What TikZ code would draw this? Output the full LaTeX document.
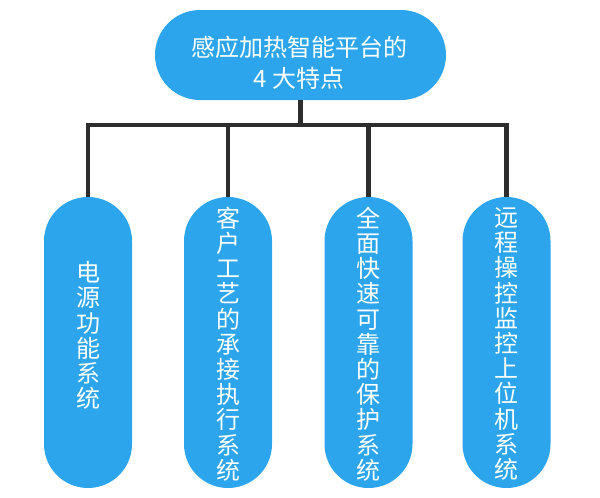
\documentclass[tikz,border=0pt]{standalone}
\usepackage{fontspec}
\setmainfont{Noto Sans CJK SC}
\definecolor{pillblue}{RGB}{44,165,236}
\definecolor{linedark}{RGB}{45,45,45}
\begin{document}
\begin{tikzpicture}[x=1pt,y=-1pt,
  toppill/.style={fill=pillblue, draw=none, rounded corners=45pt, inner sep=0pt,
                  minimum width=291pt, minimum height=90pt},
  colpill/.style={fill=pillblue, draw=none, rounded corners=44pt, inner sep=0pt,
                  minimum width=88pt, minimum height=291pt},
  toptext/.style={text=white, align=center, inner sep=0pt,
                  font=\fontsize{24}{31}\selectfont},
  vtext/.style={text=white, align=center, inner sep=0pt,
                font=\fontsize{24}{25.2}\selectfont},
  conn/.style={draw=linedark, line width=4.5pt, line join=miter}]
\useasboundingbox (0,0) rectangle (600,498);
% top
\node[toppill] (top) at (300.5,55) {};
\node[toptext] (tt) at (299,62.5) {感应加热智能平台的\\4 大特点};
% columns
\node[colpill] (b1) at (88,342.5) {};
\node[colpill] (b2) at (228,342.5) {};
\node[colpill] (b3) at (368.5,342.5) {};
\node[colpill] (b4) at (506.5,342.5) {};
\node[vtext] (t1) at (88,335.5) {电\\源\\功\\能\\系\\统};
\node[vtext] (t2) at (228,344) {客\\户\\工\\艺\\的\\承\\接\\执\\行\\系\\统};
\node[vtext] (t3) at (368.5,344) {全\\面\\快\\速\\可\\靠\\的\\保\\护\\系\\统};
\node[vtext] (t4) at (506.5,344) {远\\程\\操\\控\\监\\控\\上\\位\\机\\系\\统};
% connectors
\coordinate (j) at (300.5,125);
\draw[conn] (top.south) -- (j);
\draw[conn] (b1.north) |- (j) -| (b4.north);
\draw[conn] (b2.north) -- (b2.north |- j);
\draw[conn] (b3.north) -- (b3.north |- j);
\end{tikzpicture}
\end{document}
